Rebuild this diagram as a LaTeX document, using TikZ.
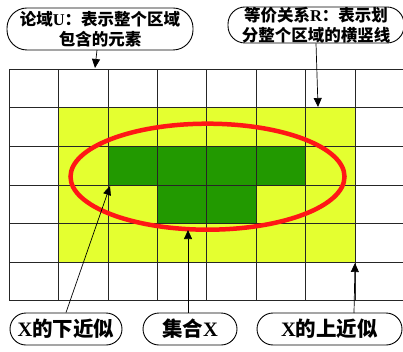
\documentclass[tikz,border=0pt]{standalone}
\usepackage{fontspec}
\setmainfont{Liberation Serif}
\newfontfamily\cjk{Noto Sans CJK SC}
\usetikzlibrary{arrows.meta}
\definecolor{upyellow}{RGB}{228,255,48}
\definecolor{lowgreen}{RGB}{34,153,0}
\definecolor{setred}{RGB}{255,22,22}
\begin{document}
\begin{tikzpicture}[x=1pt,y=-1pt,
  bubble/.style={draw=black, line width=0.9pt, fill=white, rounded corners=15pt,
    align=center, inner sep=0pt, font=\bfseries},
  topfont/.style={font=\bfseries\fontsize{16.5}{19.5}\selectfont},
  botfont/.style={font=\bfseries\fontsize{20.5}{24}\selectfont},
  gridline/.style={draw=black!85, line width=0.9pt},
  pointer/.style={draw=black, line width=0.7pt, -{Triangle[length=9pt,width=8pt]}}
]
\useasboundingbox (0,0) rectangle (403,352);
% approximations
\fill[upyellow] (58.7,107.9) rectangle (355.1,262.7);
\fill[lowgreen] (108.1,146.5) rectangle (305.7,185.1);
\fill[lowgreen] (157.5,185.1) rectangle (256.3,223.7);
% grid
\foreach \i in {0,...,8} {
  \draw[gridline] ({9.3+49.4*\i},69.3) -- ({9.3+49.4*\i},301);
}
\foreach \j in {0,...,6} {
  \draw[gridline] (9.3,{69.3+38.6*\j}) -- (405,{69.3+38.6*\j});
}
% set X
\draw[setred, line width=4.5pt] (207.5,176.7) ellipse [x radius=137, y radius=53];
% callouts
\node[bubble, topfont, minimum width=186pt, minimum height=42pt, rounded corners=20pt] (b1) at (100,29)
  {{\cjk 论域}U{\cjk ：表示整个区域}\\{\cjk 包含的元素}};
\node[bubble, topfont, minimum width=176pt, minimum height=36pt, rounded corners=17pt] (b2) at (316,25)
  {{\cjk 等价关系}R{\cjk ：表示划}\\{\cjk 分整个区域的横竖线}};
\node[bubble, botfont, minimum width=112pt, minimum height=32pt, rounded corners=16pt] (b3) at (66,329)
  {X{\cjk 的下近似}};
\node[bubble, botfont, minimum width=94pt, minimum height=32pt, rounded corners=16pt] (b4) at (190,329)
  {{\cjk 集合}X};
\node[bubble, botfont, minimum width=145pt, minimum height=32pt, rounded corners=16pt] (b5) at (329.5,329)
  {X{\cjk 的上近似}};
% targets
\coordinate (t1) at (95,68);
\coordinate (t2) at (318,107);
\coordinate (t3) at (110,186);
\coordinate (t4) at (188,230);
\coordinate (t5) at (355,263);
\coordinate (s1) at (97,50);
\coordinate (s5) at (354,313);
\draw[pointer] (s1) -- (t1);
\draw[pointer] (b2.south) -- (t2);
\draw[pointer] (b3.north) -- (t3);
\draw[pointer] (b4.north -| t4) -- (t4);
\draw[pointer] (s5) -- (t5);
\end{tikzpicture}
\end{document}
